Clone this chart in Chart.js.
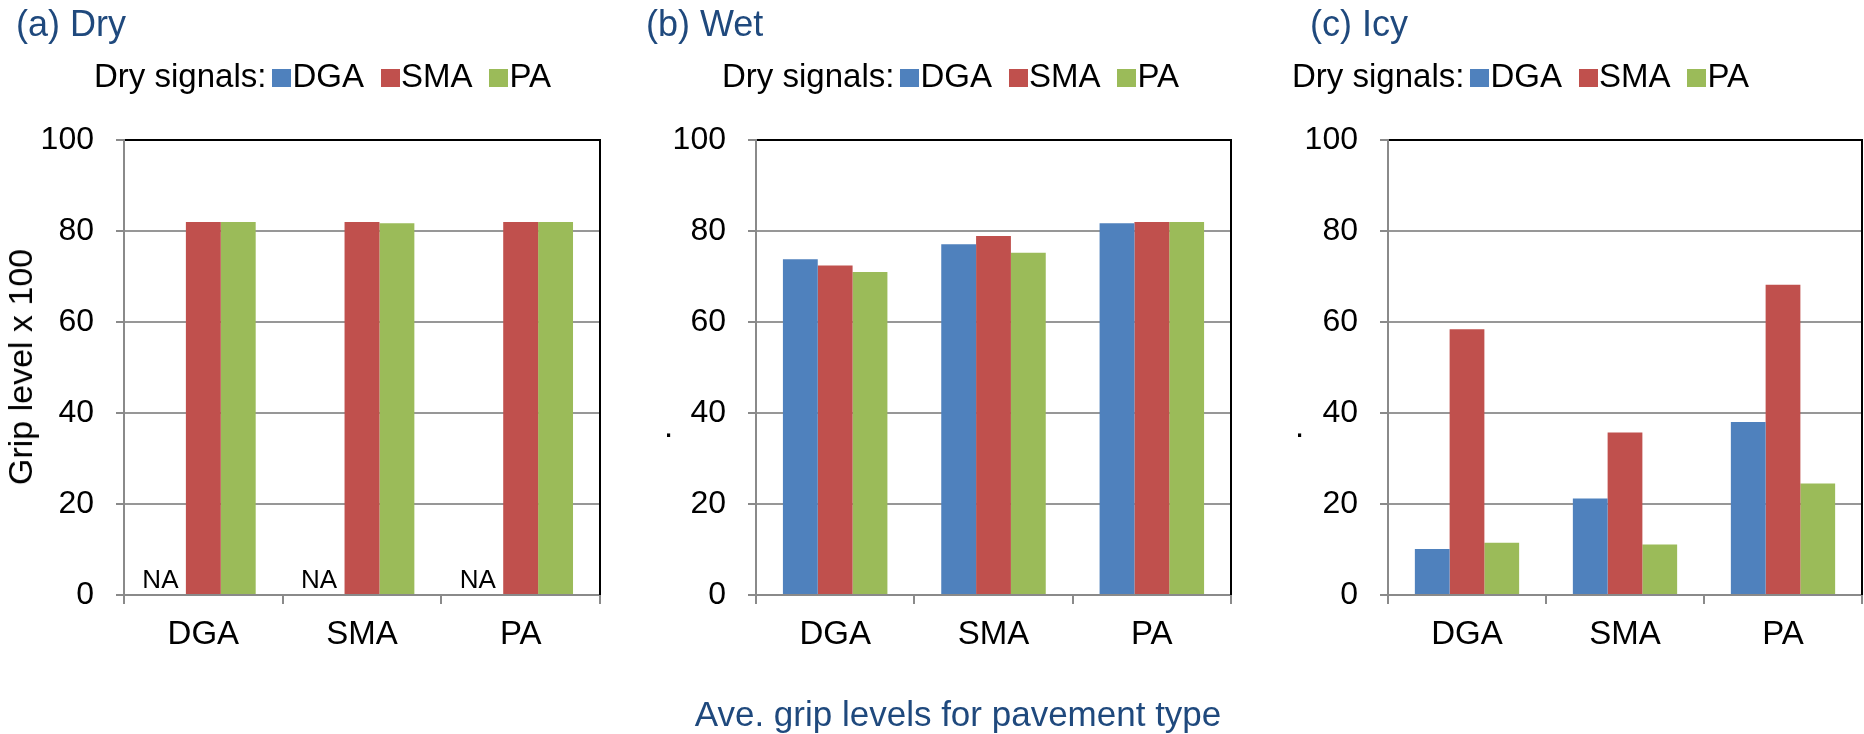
<!DOCTYPE html>
<html>
<head>
<meta charset="utf-8">
<script src="https://cdn.jsdelivr.net/npm/chart.js@4.4.1/dist/chart.umd.min.js"></script>
<style>
html,body{margin:0;padding:0;background:#fff;}
#wrap{position:relative;width:1864px;height:734px;overflow:hidden;background:#fff;}
#wrap canvas{position:absolute;top:0;}
.t{position:absolute;white-space:nowrap;line-height:1;font-family:"Liberation Sans",Arial,Helvetica,sans-serif;}
.sq{display:inline-block;width:19px;height:18px;vertical-align:baseline;}
</style>
</head>
<body>
<div id="wrap"></div>
<script>
// ---------- data ----------
const categories = ['DGA', 'SMA', 'PA'];
const seriesNames = ['DGA', 'SMA', 'PA'];
const seriesColors = ['#4F81BD', '#C0504D', '#9BBB59'];
const panelTitles = ['(a) Dry', '(b) Wet', '(c) Icy'];
const legendTitle = 'Dry signals:';
const yTickValues = [0, 20, 40, 60, 80, 100];
const naLabel = 'NA';
const yAxisTitle = 'Grip level x 100';
const xAxisTitle = 'Ave. grip levels for pavement type';

const dryDGA = [null, null, null];
const drySMA = [82.0, 82.0, 82.0];
const dryPA  = [82.0, 81.7, 82.0];

const wetDGA = [73.8, 77.1, 81.7];
const wetSMA = [72.4, 78.9, 82.0];
const wetPA  = [71.0, 75.2, 82.0];

const icyDGA = [10.1, 21.2, 38.0];
const icySMA = [58.4, 35.7, 68.2];
const icyPA  = [11.5, 11.1, 24.5];

// ---------- layout ----------
const FONT = '"Liberation Sans", Arial, Helvetica, sans-serif';
const TITLE_COLOR = '#1F497D';
const H = 734, TOP = 140, BOTTOM = 595, XH = 90;
const panels = [
  {x0: 0,    w: 630, L: 124,  R: 600,  titleX: 16,   legendX: 94,   dot: null,         na: true,  values: [dryDGA, drySMA, dryPA]},
  {x0: 630,  w: 630, L: 756,  R: 1231, titleX: 646,  legendX: 722,  dot: [664, 409],   na: false, values: [wetDGA, wetSMA, wetPA]},
  {x0: 1260, w: 604, L: 1388, R: 1862, titleX: 1310, legendX: 1292, dot: [1295, 409],  na: false, values: [icyDGA, icySMA, icyPA]}
];

const wrap = document.getElementById('wrap');
function addText(txt, css) {
  const d = document.createElement('div');
  d.className = 't';
  d.textContent = txt;
  d.style.cssText += css;
  wrap.appendChild(d);
  return d;
}

const naPlugin = {
  id: 'naLabels',
  afterDatasetsDraw(chart, args, opts) {
    if (!opts || !opts.on) return;
    const ctx = chart.ctx;
    const m0 = chart.getDatasetMeta(0), m1 = chart.getDatasetMeta(1);
    const y = chart.scales.y.getPixelForValue(0);
    ctx.save();
    ctx.font = '26px ' + FONT;
    ctx.fillStyle = '#000';
    ctx.textAlign = 'center';
    ctx.textBaseline = 'alphabetic';
    chart.data.datasets[0].data.forEach((v, i) => {
      if (v === null) {
        let x = m0.data[i] ? m0.data[i].x : NaN;
        if (!isFinite(x)) { const b = m1.data[i]; x = b.x - b.width; }
        ctx.fillText(naLabel, x - 8, y - 7);
      }
    });
    ctx.restore();
  }
};

const framePlugin = {
  id: 'frameRight',
  afterDraw(chart) {
    const a = chart.chartArea, c = chart.ctx;
    c.save();
    c.strokeStyle = '#000';
    c.lineWidth = 2;
    c.beginPath();
    c.moveTo(a.right, a.top - 1);
    c.lineTo(a.right, a.bottom);
    c.stroke();
    c.restore();
  }
};

panels.forEach((p, k) => {
  const cv = document.createElement('canvas');
  cv.width = p.w; cv.height = H;
  cv.style.left = p.x0 + 'px';
  cv.style.width = p.w + 'px'; cv.style.height = H + 'px';
  wrap.appendChild(cv);

  new Chart(cv.getContext('2d'), {
    type: 'bar',
    data: {
      labels: categories,
      datasets: seriesNames.map((n, i) => ({
        label: n,
        data: p.values[i],
        backgroundColor: seriesColors[i],
        borderWidth: 0,
        categoryPercentage: 0.66,
        barPercentage: 1.0
      }))
    },
    plugins: [naPlugin, framePlugin],
    options: {
      responsive: false,
      animation: false,
      devicePixelRatio: 1,
      layout: { padding: { left: 0, top: TOP, right: p.x0 + p.w - p.R, bottom: H - BOTTOM - XH } },
      plugins: {
        legend: { display: false },
        title: { display: false },
        tooltip: { enabled: false },
        naLabels: { on: p.na }
      },
      scales: {
        y: {
          min: yTickValues[0],
          max: yTickValues[yTickValues.length - 1],
          afterFit: s => { s.width = p.L - p.x0; },
          afterBuildTicks: s => { s.ticks = yTickValues.map(v => ({value: v})); },
          ticks: { font: { family: FONT, size: 32 }, color: '#000', padding: 22 },
          grid: {
            color: c => (c.tick && c.tick.value === 100) ? '#000' : '#979797',
            lineWidth: 2,
            tickLength: 8,
            tickColor: '#8a8a8a',
            tickWidth: 2
          },
          border: { color: '#8a8a8a', width: 2 }
        },
        x: {
          afterFit: s => { s.height = XH; },
          ticks: { font: { family: FONT, size: 33 }, color: '#000', padding: 11, maxRotation: 0 },
          grid: { offset: true, drawOnChartArea: false, tickLength: 9, color: '#8a8a8a', lineWidth: 2 },
          border: { color: '#8a8a8a', width: 2 }
        }
      }
    }
  });

  // panel title
  addText(panelTitles[k], `left:${p.titleX}px;top:6px;font-size:36px;color:${TITLE_COLOR};`);
  // legend
  const lg = document.createElement('div');
  lg.className = 't';
  lg.style.cssText += `left:${p.legendX}px;top:59px;font-size:33px;color:#000;`;
  let h = `<span>${legendTitle}</span>`;
  seriesNames.forEach((n, i) => {
    h += `<span class="sq" style="background:${seriesColors[i]};margin-left:${i ? 17 : 6}px;margin-right:1px"></span><span>${n}</span>`;
  });
  lg.innerHTML = h;
  wrap.appendChild(lg);
  // stray dot
  if (p.dot) addText('.', `left:${p.dot[0]}px;top:${p.dot[1]}px;font-size:33px;color:#000;`);
});

// y axis title (rotated)
addText(yAxisTitle, `left:20px;top:367px;font-size:34px;color:#000;transform:translate(-50%,-50%) rotate(-90deg);`);
// bottom title
addText(xAxisTitle, `left:958px;top:696px;font-size:35px;color:${TITLE_COLOR};transform:translateX(-50%);`);
</script>
</body>
</html>
